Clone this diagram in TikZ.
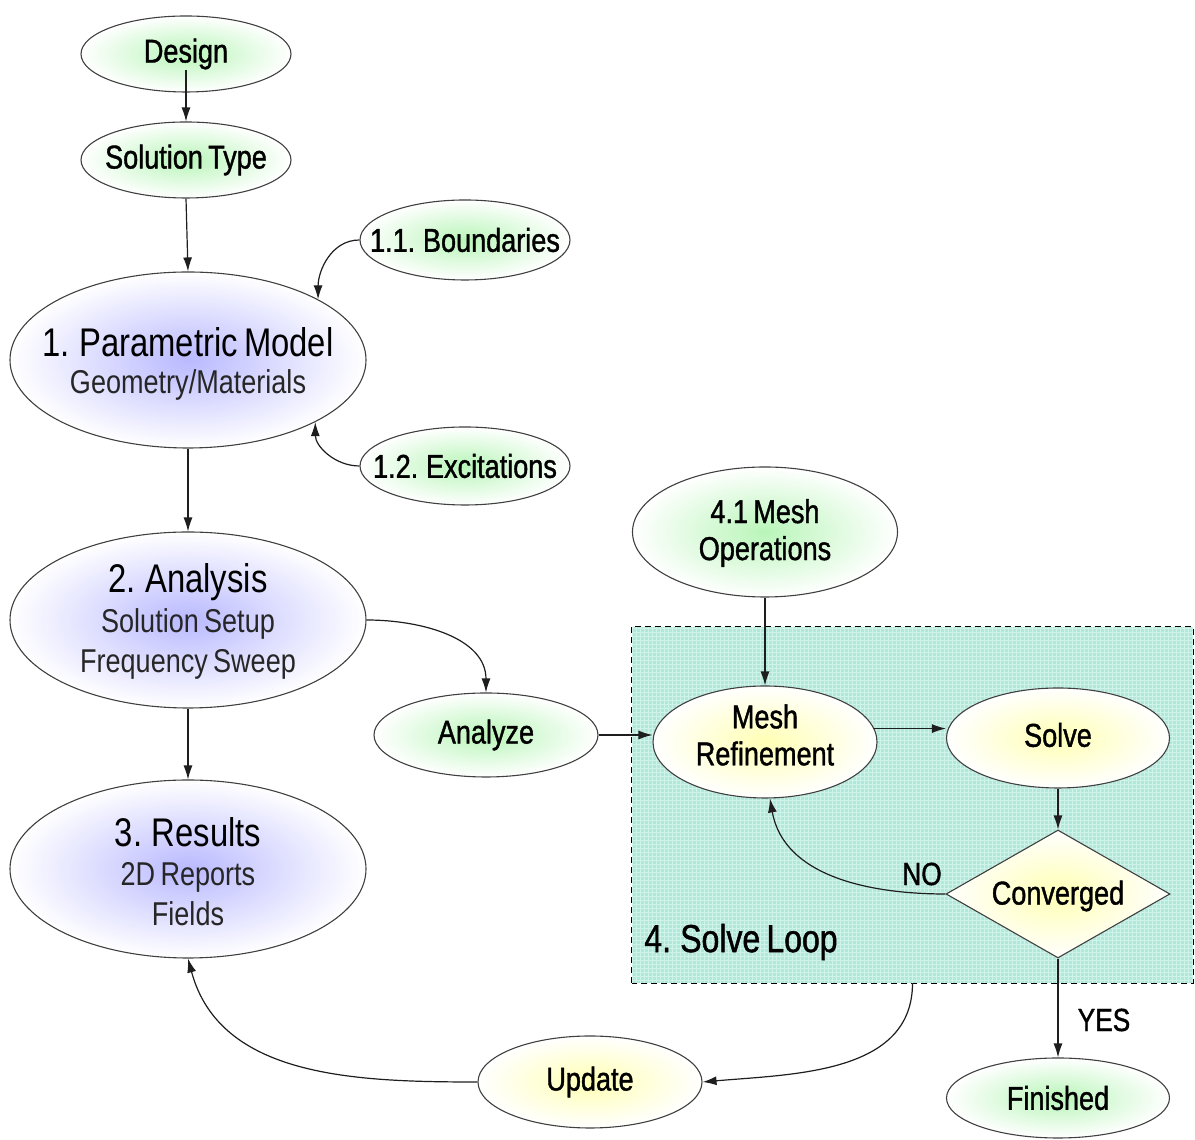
\documentclass[tikz,border=0pt]{standalone}
\usepackage{fontspec}
\setmainfont{Liberation Sans}[FakeStretch=0.82,WordSpace=0.7]
\newfontfamily\lblfont{Liberation Sans}[FakeStretch=0.82,FakeBold=1.2,WordSpace=0.7]
\usetikzlibrary{shapes.geometric,arrows.meta,calc}
\definecolor{gcen}{RGB}{185,245,185}
\definecolor{bcen}{RGB}{185,185,255}
\definecolor{ycen}{RGB}{255,255,180}
\definecolor{boxfill}{RGB}{176,232,217}
\definecolor{gridc}{RGB}{208,243,233}
\definecolor{edgec}{RGB}{30,30,30}
\begin{document}
\begin{tikzpicture}[x=1pt,y=1pt,
  ell/.style={ellipse, draw=black!75, line width=1.1pt, inner sep=0pt},
  gfill/.style={inner color=gcen, outer color=white},
  bfill/.style={inner color=bcen, outer color=white},
  yfill/.style={inner color=ycen, outer color=white},
  lbl/.style={font=\lblfont\fontsize{33}{37}\selectfont, align=center, text=black, inner sep=0pt},
  ttl/.style={font=\fontsize{40}{44}\selectfont, text=black, inner sep=0pt},
  sub/.style={font=\fontsize{33}{39.5}\selectfont, align=center, text=black!85, inner sep=0pt},
  arr/.style={draw=edgec, line width=1.2pt, -{Latex[length=14pt,width=9pt]}}
]
\useasboundingbox (0,0) rectangle (1195,1140);

% solve loop box
\node[rectangle, minimum width=561pt, minimum height=356pt, fill=boxfill, inner sep=0pt] (loop) at (912.5,335) {};
\begin{scope}
  \clip (632,157) rectangle (1193,513);
  \draw[gridc, line width=0.7pt, step=4pt] (632,157) grid (1193,513);
\end{scope}
\draw[black, line width=1.3pt, dash pattern=on 6pt off 4pt] (loop.south west) rectangle (loop.north east);
\node[font=\lblfont\fontsize{39}{42}\selectfont, inner sep=0pt] (looplbl) at (741,198) {4. Solve Loop};

% ellipses
\node[ell, gfill, minimum width=210pt, minimum height=76pt] (design) at (186,1086) {};
\node[lbl] (design-t) at (186,1086) {Design};
\node[ell, gfill, minimum width=210pt, minimum height=76pt] (soltype) at (186,980) {};
\node[lbl] (soltype-t) at (186,980) {Solution Type};
\node[ell, gfill, minimum width=210pt, minimum height=80pt] (bound) at (465,900) {};
\node[lbl] (bound-t) at (465,900) {1.1. Boundaries};
\node[ell, bfill, minimum width=356pt, minimum height=176pt] (param) at (188,780) {};
\node[ttl] (param-t) at (188,798) {1. Parametric Model};
\node[sub] (param-s) at (188,755) {Geometry/Materials};
\node[ell, gfill, minimum width=210pt, minimum height=78pt] (excit) at (465,674) {};
\node[lbl] (excit-t) at (465,674) {1.2. Excitations};
\node[ell, bfill, minimum width=356pt, minimum height=176pt] (analysis) at (188,520) {};
\node[ttl] (analysis-t) at (188,558) {2. Analysis};
\node[sub] (analysis-s) at (188,496) {Solution Setup\\Frequency Sweep};
\node[ell, bfill, minimum width=356pt, minimum height=178pt] (results) at (188,271) {};
\node[ttl] (results-t) at (188,308) {3. Results};
\node[sub] (results-s) at (188,246) {2D Reports\\Fields};
\node[ell, gfill, minimum width=224pt, minimum height=84pt] (analyze) at (486,405) {};
\node[lbl] (analyze-t) at (486,405) {Analyze};
\node[ell, gfill, minimum width=265pt, minimum height=130pt] (meshops) at (765,608) {};
\node[lbl] (meshops-t) at (765,607) {4.1 Mesh\\Operations};
\node[ell, yfill, minimum width=224pt, minimum height=112pt] (meshref) at (765,398) {};
\node[lbl] (meshref-t) at (765,405) {Mesh\\Refinement};
\node[ell, yfill, minimum width=223pt, minimum height=100pt] (solve) at (1058,402) {};
\node[lbl] (solve-t) at (1058,405) {Solve};
\node[diamond, draw=black!75, line width=1.1pt, inner sep=0pt, yfill, minimum width=224pt, minimum height=128pt] (conv) at (1058,246) {};
\node[lbl] (conv-t) at (1058,244) {Converged};
\node[ell, gfill, minimum width=223pt, minimum height=80pt] (finished) at (1058,42) {};
\node[lbl] (finished-t) at (1058,42) {Finished};
\node[ell, yfill, minimum width=224pt, minimum height=92pt] (update) at (590,58) {};
\node[lbl] (update-t) at (590,58) {Update};

% connectors
\draw[arr] ($(design.center)+(0,-16)$) -- (soltype.north);
\draw[arr] (soltype.south) -- (param.north);
\draw[arr] (bound.west) to[out=180,in=90] (param.25.5);
\draw[arr] (excit.west) to[out=180,in=-90] (param.-26);
\draw[arr] (param.south) -- (analysis.north);
\draw[arr] (analysis.east) to[out=0,in=90] (analyze.north);
\draw[arr] (analysis.south) -- (results.north);
\draw[arr] (analyze.east) -- (analyze.east -| meshref.west);
\draw[arr] (meshops.south) -- (meshref.north);
\draw[arr] (meshref.7) -- (meshref.7 -| solve.west);
\draw[arr] (solve.south) -- (conv.north);
\draw[arr] (conv.west) to[out=180,in=-80] (meshref.-85);
\node[font=\lblfont\fontsize{32}{34}\selectfont, inner sep=0pt] (nolbl) at (922,266) {NO};
\draw[arr] (conv.south) -- (finished.north);
\node[font=\lblfont\fontsize{32}{34}\selectfont, inner sep=0pt] (yeslbl) at (1104,120) {YES};
\draw[arr] (loop.south) to[out=-90,in=5] (update.east);
\draw[arr] (update.west) to[out=180,in=-75] (results.south);
\end{tikzpicture}
\end{document}
